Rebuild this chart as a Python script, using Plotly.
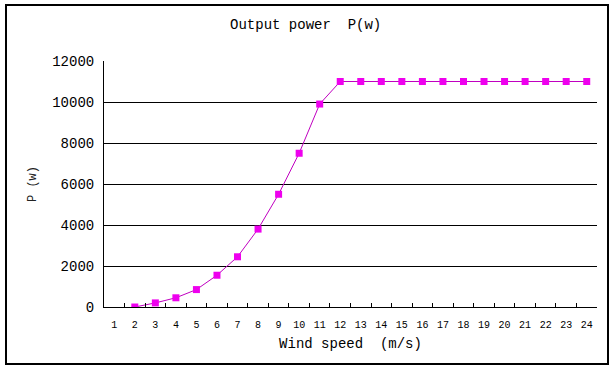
import plotly.graph_objects as go

wind_speed = [str(i) for i in range(1, 25)]
power = [None, 0, 200, 450, 850, 1550, 2450, 3800, 5500, 7500, 9900, 11000,
         11000, 11000, 11000, 11000, 11000, 11000, 11000, 11000, 11000, 11000, 11000, 11000]
y_ticks = [0, 2000, 4000, 6000, 8000, 10000, 12000]

MONO = "Liberation Mono, Courier New, monospace"

fig = go.Figure()
fig.add_trace(go.Scatter(
    x=wind_speed, y=power, mode="lines+markers",
    line=dict(color="#C000C0", width=1),
    marker=dict(symbol="square", size=7, color="#EE00EE", line=dict(width=0)),
    connectgaps=False, showlegend=False,
))

fig.update_layout(
    width=615, height=371,
    margin=dict(l=104, r=18, t=61, b=64),
    paper_bgcolor="white", plot_bgcolor="white",
    title=dict(text="Output power\u00a0\u00a0P(w)", x=0.497, xanchor="center",
               y=1 - 24 / 371, yanchor="middle",
               font=dict(family=MONO, size=14, color="black")),
    xaxis=dict(
        type="category", categoryorder="array", categoryarray=wind_speed,
        range=[-0.5, 23.5], tickson="boundaries", ticks="inside", ticklen=4,
        tickcolor="black", showline=True, linecolor="black", linewidth=1,
        showgrid=False, zeroline=False, tickangle=0,
        tickfont=dict(family=MONO, size=10, color="black"),
        ticklabelstandoff=8,
        title=dict(text="Wind speed\u00a0\u00a0(m/s)", standoff=8,
                   font=dict(family=MONO, size=14, color="black")),
    ),
    yaxis=dict(
        range=[0, 12000], tickvals=y_ticks, tickformat="d", ticks="inside", ticklen=5,
        tickcolor="black", showline=True, linecolor="black", linewidth=1,
        showgrid=True, gridcolor="black", gridwidth=1, zeroline=False,
        tickfont=dict(family=MONO, size=14, color="black"),
        ticklabelstandoff=6,
        title=dict(text="P\u00a0(w)", standoff=12,
                   font=dict(family=MONO, size=12, color="#222222")),
    ),
    shapes=[dict(type="rect", xref="paper", yref="paper",
                 x0=(6 - 104) / 493, x1=(608 - 104) / 493,
                 y0=(307 - 364) / 246, y1=(307 - 5) / 246,
                 line=dict(color="black", width=2), fillcolor="rgba(0,0,0,0)",
                 layer="below")],
)

fig.write_html("out.html", config={"displayModeBar": False},
               post_script="document.body.style.margin='0';document.body.style.overflow='hidden';")
